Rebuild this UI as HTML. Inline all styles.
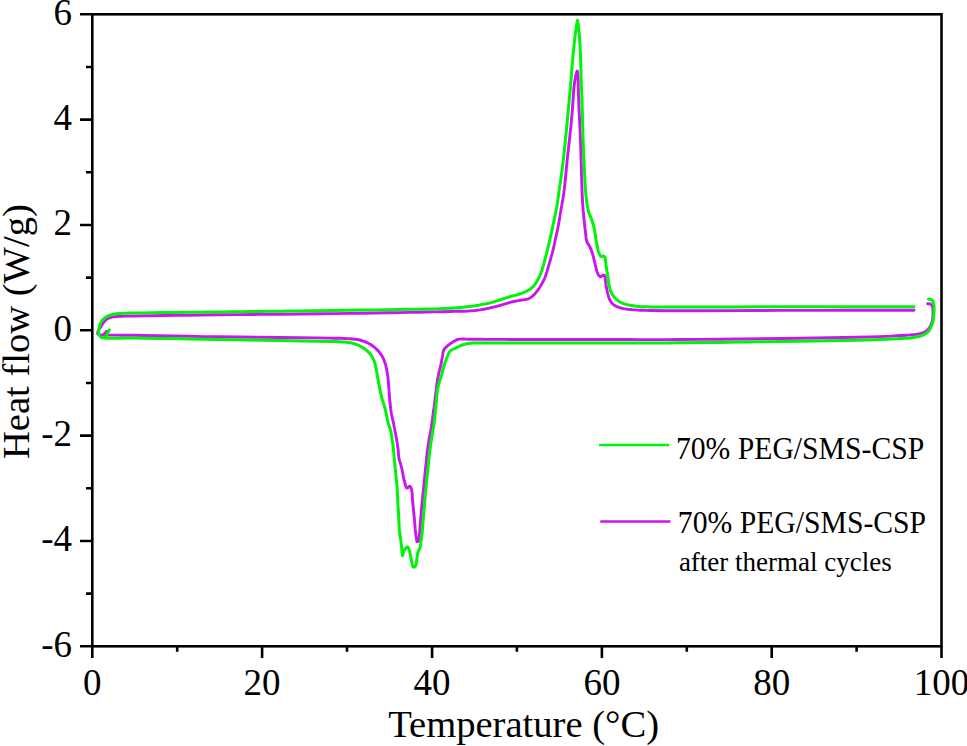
<!DOCTYPE html>
<html><head><meta charset="utf-8"><style>
html,body{margin:0;padding:0;background:#fff;width:967px;height:746px;overflow:hidden}
svg{display:block}
text{font-family:"Liberation Serif",serif;fill:#000}
</style></head><body>
<svg width="967" height="746" viewBox="0 0 967 746">
<g fill="none" stroke-linecap="round" stroke-linejoin="round">
<path d="M927.6,303.8L928.1,303.8 928.6,303.8 929.1,303.8 929.5,303.9 930.0,303.9 930.4,304.1 930.8,304.3 931.2,304.6 931.5,305.0 931.9,305.4 932.2,305.8 932.4,306.3 932.6,306.9 932.8,307.6 932.9,308.4 932.9,309.2 933.0,310.0 933.0,310.8 933.0,311.8 933.0,313.0 933.0,314.1 933.0,315.3 932.9,316.4 932.8,317.5 932.7,318.4 932.6,319.3 932.4,320.2 932.3,321.1 932.0,322.0 931.8,322.8 931.5,323.6 931.2,324.4 930.9,325.2 930.5,326.0 930.1,326.8 929.6,327.5 929.1,328.2 928.6,328.9 928.0,329.5 927.4,330.1 926.7,330.7 926.0,331.2 925.1,331.7 924.2,332.2 923.2,332.6 922.2,333.0 921.1,333.3 920.0,333.6 918.6,333.9 917.1,334.2 915.5,334.4 913.8,334.6 912.0,334.7 910.0,334.9 906.1,335.2 901.7,335.5 896.9,335.8 891.7,336.1 886.0,336.4 880.0,336.6 869.1,337.0 856.8,337.3 843.4,337.5 829.3,337.8 814.7,338.0 800.0,338.2 781.1,338.5 760.9,338.7 740.0,339.0 719.1,339.2 698.9,339.4 680.0,339.5 665.9,339.6 652.6,339.6 639.8,339.6 627.0,339.5 613.9,339.5 600.0,339.5 581.6,339.5 561.3,339.5 540.5,339.5 520.7,339.5 503.4,339.4 490.0,339.4 485.7,339.4 482.0,339.3 478.8,339.3 475.8,339.2 473.0,339.2 470.2,339.2 468.0,339.2 465.8,339.1 463.7,339.0 461.7,339.0 459.9,339.1 458.2,339.4 457.2,339.7 456.2,340.1 455.4,340.5 454.5,341.0 453.7,341.5 452.8,342.1 451.7,342.8 450.5,343.6 449.2,344.5 448.1,345.4 447.0,346.3 446.1,347.1 445.6,347.6 445.1,348.1 444.7,348.5 444.3,349.0 444.0,349.5 443.7,350.1 443.4,351.0 443.1,352.1 442.9,353.2 442.8,354.4 442.6,355.6 442.4,356.8 442.1,358.2 441.9,359.6 441.6,361.1 441.3,362.6 441.0,364.1 440.7,365.5 440.4,366.9 440.0,368.2 439.7,369.6 439.3,370.9 439.0,372.2 438.7,373.6 438.4,375.0 438.2,376.3 437.9,377.7 437.7,379.1 437.4,380.5 437.2,382.0 436.9,383.9 436.7,385.9 436.4,387.9 436.2,390.0 435.9,392.0 435.7,394.0 435.5,395.7 435.3,397.4 435.1,399.1 434.9,400.7 434.7,402.3 434.5,404.0 434.3,405.7 434.1,407.3 433.8,408.9 433.6,410.6 433.3,412.3 433.1,414.1 432.8,416.4 432.5,418.9 432.1,421.4 431.8,423.9 431.5,426.3 431.1,428.6 430.8,430.3 430.5,431.8 430.2,433.4 429.9,434.9 429.6,436.4 429.3,438.0 429.0,439.9 428.7,441.9 428.4,443.9 428.1,445.9 427.8,448.0 427.5,450.0 427.2,452.1 427.0,454.2 426.8,456.3 426.5,458.5 426.3,460.6 426.1,462.8 425.9,465.1 425.6,467.4 425.4,469.8 425.2,472.2 424.9,474.5 424.7,476.9 424.5,479.3 424.2,481.7 424.0,484.1 423.8,486.5 423.5,488.8 423.3,491.0 423.1,492.6 423.0,494.1 422.8,495.5 422.6,496.9 422.5,498.4 422.3,500.0 422.1,502.3 421.9,504.8 421.6,507.3 421.4,509.9 421.2,512.5 421.0,515.0 420.8,517.3 420.6,519.5 420.5,521.8 420.3,523.9 420.2,526.0 420.0,528.0 419.9,529.5 419.8,530.9 419.7,532.2 419.6,533.5 419.4,534.8 419.3,536.0 419.2,537.0 419.1,538.1 419.0,539.1 418.9,540.0 418.7,540.8 418.4,541.3 418.2,541.4 418.1,541.6 417.9,541.6 417.7,541.7 417.5,541.7 417.3,541.6 417.0,541.3 416.8,540.7 416.7,540.0 416.6,539.2 416.4,538.3 416.3,537.5 416.1,536.4 415.9,535.2 415.8,534.0 415.6,532.7 415.4,531.3 415.3,530.0 415.1,528.4 415.0,526.8 414.9,525.1 414.8,523.4 414.6,521.7 414.5,520.0 414.3,518.3 414.2,516.7 414.0,515.0 413.8,513.3 413.7,511.7 413.5,510.0 413.3,508.3 413.2,506.7 413.0,505.0 412.8,503.3 412.7,501.7 412.5,500.0 412.4,498.3 412.3,496.5 412.2,494.7 412.1,493.0 411.9,491.4 411.6,490.0 411.4,489.2 411.1,488.3 410.8,487.6 410.5,486.9 410.1,486.4 409.7,486.2 409.3,486.3 408.8,486.7 408.3,487.2 407.8,487.7 407.3,488.0 406.9,488.1 406.5,487.8 406.1,487.1 405.8,486.3 405.5,485.3 405.3,484.3 405.0,483.4 404.7,482.5 404.5,481.6 404.2,480.7 404.0,479.8 403.8,478.8 403.6,477.8 403.4,476.6 403.1,475.3 402.9,474.1 402.7,472.8 402.4,471.5 402.2,470.3 402.0,469.3 401.8,468.4 401.5,467.5 401.3,466.6 401.1,465.6 400.8,464.7 400.5,463.6 400.2,462.6 399.8,461.5 399.5,460.4 399.2,459.3 398.9,458.1 398.7,456.6 398.5,455.1 398.4,453.5 398.3,451.9 398.2,450.3 398.0,448.7 397.8,447.1 397.6,445.6 397.4,444.0 397.1,442.5 396.9,441.0 396.6,439.4 396.3,437.8 396.0,436.2 395.7,434.6 395.4,433.0 395.1,431.5 394.8,430.0 394.6,428.8 394.3,427.6 394.1,426.5 393.9,425.3 393.7,424.1 393.4,422.9 393.1,421.3 392.7,419.6 392.3,417.9 391.9,416.1 391.5,414.3 391.2,412.5 390.9,410.4 390.6,408.2 390.4,406.0 390.1,403.8 389.9,401.5 389.7,399.3 389.5,397.1 389.3,394.8 389.2,392.6 389.0,390.4 388.9,388.2 388.7,386.0 388.5,384.0 388.4,382.0 388.2,380.0 388.0,378.0 387.8,376.1 387.5,374.2 387.2,372.4 386.9,370.6 386.5,368.9 386.2,367.2 385.8,365.5 385.3,363.9 384.9,362.6 384.4,361.3 384.0,360.1 383.5,358.8 382.9,357.7 382.3,356.5 381.6,355.3 380.8,354.2 380.0,353.1 379.1,352.0 378.2,350.9 377.2,349.9 376.1,348.8 375.0,347.8 373.8,346.7 372.5,345.8 371.2,344.8 369.8,344.0 368.2,343.2 366.6,342.4 364.9,341.7 363.2,341.1 361.4,340.5 359.5,340.0 357.2,339.5 354.8,339.2 352.3,339.0 349.7,338.8 347.2,338.6 344.7,338.5 342.4,338.4 340.3,338.3 338.2,338.2 335.9,338.2 333.2,338.2 330.0,338.1 317.4,337.9 300.4,337.7 280.5,337.5 259.5,337.3 238.7,337.0 220.0,336.8 204.3,336.6 188.3,336.3 172.5,336.0 157.7,335.7 144.6,335.5 134.0,335.3 130.0,335.2 126.5,335.2 123.4,335.2 120.5,335.2 117.8,335.1 115.0,335.1 112.8,335.1 110.6,335.1 108.4,335.0 106.4,335.0 104.6,335.0 103.0,334.9 102.2,334.9 101.4,334.9 100.7,334.9 100.1,334.8 99.5,334.7 99.0,334.6 98.7,334.5 98.4,334.4 98.1,334.2 97.9,334.0 97.7,333.8 97.6,333.6 97.5,333.2 97.6,332.8 97.7,332.3 97.9,331.8 98.1,331.3 98.3,330.8 98.5,330.3 98.8,329.8 99.2,329.3 99.5,328.8 99.9,328.3 100.2,327.8 100.6,327.2 100.9,326.6 101.3,325.9 101.7,325.2 102.1,324.6 102.5,324.0 102.9,323.4 103.3,322.9 103.7,322.3 104.1,321.8 104.5,321.3 105.0,320.8 105.5,320.4 105.9,319.9 106.4,319.5 106.9,319.2 107.4,318.8 108.0,318.5 108.6,318.2 109.2,317.9 109.9,317.7 110.5,317.5 111.2,317.3 112.0,317.1 113.1,316.9 114.4,316.7 115.7,316.6 117.1,316.5 118.5,316.4 120.0,316.3 122.0,316.2 124.0,316.1 126.1,316.1 128.4,316.1 131.0,316.0 134.0,316.0 142.0,315.9 151.7,315.7 162.7,315.5 174.7,315.3 187.3,315.2 200.0,315.0 218.2,314.8 238.3,314.6 259.3,314.4 280.5,314.2 301.0,314.0 320.0,313.8 334.5,313.6 348.6,313.4 362.2,313.2 375.3,313.0 387.9,312.8 400.0,312.6 409.3,312.4 418.4,312.2 427.1,312.0 435.4,311.9 443.1,311.7 450.0,311.5 453.9,311.4 457.6,311.3 461.0,311.3 464.2,311.2 467.2,311.1 470.0,310.9 471.9,310.8 473.6,310.6 475.2,310.5 476.8,310.3 478.4,310.1 480.0,309.9 481.7,309.6 483.4,309.3 485.1,309.0 486.7,308.6 488.4,308.3 490.1,307.9 491.8,307.5 493.5,307.1 495.2,306.7 496.8,306.3 498.5,305.9 500.2,305.4 501.9,304.9 503.5,304.4 505.2,303.8 506.9,303.3 508.5,302.8 510.2,302.3 511.9,301.9 513.6,301.5 515.3,301.2 517.0,300.9 518.7,300.6 520.3,300.3 521.7,300.1 523.1,299.9 524.5,299.7 525.8,299.5 527.1,299.2 528.3,298.8 529.4,298.3 530.5,297.6 531.5,296.9 532.5,296.1 533.4,295.2 534.4,294.3 535.5,293.2 536.5,291.9 537.5,290.6 538.5,289.2 539.5,287.8 540.4,286.3 541.3,284.7 542.2,283.1 543.1,281.5 543.9,279.8 544.7,278.0 545.4,276.2 546.2,274.1 546.9,271.9 547.5,269.7 548.2,267.5 548.8,265.2 549.4,263.1 550.0,261.2 550.5,259.4 551.0,257.6 551.5,255.7 552.0,253.9 552.5,252.1 552.9,250.3 553.4,248.5 553.8,246.7 554.2,244.8 554.6,243.0 555.0,241.0 555.5,238.6 556.1,236.1 556.7,233.5 557.2,230.9 557.8,228.2 558.3,225.6 558.8,222.8 559.3,219.9 559.8,216.9 560.2,214.0 560.7,211.3 561.1,208.8 561.4,207.2 561.7,205.7 561.9,204.3 562.2,202.9 562.4,201.5 562.7,200.0 563.0,198.4 563.2,196.9 563.5,195.4 563.7,193.7 563.9,192.0 564.2,190.0 564.6,186.1 565.1,181.6 565.6,176.7 566.1,171.6 566.5,166.6 567.0,162.0 567.4,158.2 567.8,154.4 568.2,150.8 568.6,147.2 569.0,143.6 569.4,140.0 569.8,136.6 570.1,133.2 570.5,129.8 570.9,126.5 571.2,123.2 571.5,120.0 571.7,117.2 572.0,114.6 572.2,111.9 572.4,109.3 572.6,106.7 572.8,104.0 573.0,101.1 573.2,98.1 573.4,95.0 573.6,92.1 573.8,89.2 574.1,86.5 574.3,84.5 574.6,82.5 574.9,80.5 575.2,78.7 575.5,77.0 575.8,75.5 576.0,74.5 576.3,73.5 576.5,72.5 576.8,71.7 577.0,71.2 577.2,71.0 577.4,71.2 577.5,71.9 577.7,72.8 577.8,73.8 577.9,74.9 578.0,76.0 578.1,77.5 578.1,79.1 578.2,80.8 578.2,82.7 578.2,84.6 578.2,86.5 578.3,89.1 578.4,91.8 578.4,94.6 578.6,97.5 578.7,100.7 578.8,104.0 579.0,109.2 579.3,114.8 579.6,120.8 579.9,127.1 580.2,133.5 580.5,140.0 580.8,148.2 581.0,157.2 581.3,166.4 581.5,175.3 581.8,183.4 582.0,190.0 582.1,192.8 582.2,195.3 582.3,197.5 582.4,199.7 582.6,201.8 582.7,204.0 582.9,206.3 583.0,208.7 583.2,211.0 583.5,213.4 583.7,215.8 583.9,218.1 584.1,220.5 584.4,222.9 584.7,225.3 584.9,227.7 585.2,230.0 585.5,232.2 585.7,233.9 585.9,235.6 586.0,237.2 586.2,238.7 586.5,240.2 586.9,241.6 587.3,242.6 587.8,243.6 588.4,244.5 589.0,245.4 589.5,246.3 590.0,247.2 590.4,248.2 590.9,249.1 591.3,250.1 591.7,251.1 592.0,252.2 592.4,253.3 592.8,254.8 593.3,256.4 593.7,258.0 594.0,259.7 594.4,261.3 594.8,262.9 595.1,264.2 595.4,265.5 595.7,266.7 596.0,267.9 596.3,269.1 596.6,270.2 596.9,271.1 597.2,272.0 597.5,272.8 597.8,273.6 598.1,274.4 598.5,275.0 598.8,275.4 599.1,275.8 599.5,276.2 599.8,276.5 600.2,276.7 600.6,276.8 601.1,276.7 601.6,276.3 602.2,275.9 602.7,275.4 603.2,275.1 603.6,275.0 603.8,275.1 604.1,275.2 604.3,275.4 604.5,275.6 604.6,275.9 604.8,276.2 605.0,276.8 605.1,277.6 605.2,278.5 605.3,279.4 605.3,280.3 605.4,281.1 605.5,281.8 605.6,282.4 605.7,283.0 605.8,283.7 605.9,284.3 606.0,285.0 606.2,285.9 606.3,286.9 606.5,287.8 606.7,288.9 606.9,289.9 607.2,291.0 607.5,292.5 607.9,294.1 608.3,295.7 608.8,297.4 609.3,298.9 610.0,300.3 610.6,301.3 611.3,302.3 612.1,303.2 612.9,304.0 613.8,304.8 614.7,305.5 615.8,306.1 617.0,306.7 618.2,307.2 619.5,307.6 620.8,308.0 622.2,308.3 623.8,308.7 625.4,308.9 627.1,309.2 628.8,309.4 630.6,309.5 632.5,309.7 635.0,309.9 637.4,310.1 639.9,310.2 642.8,310.3 646.1,310.4 650.0,310.5 664.7,310.7 684.3,310.7 707.3,310.7 732.1,310.6 756.8,310.5 780.0,310.4 802.2,310.4 824.5,310.4 846.9,310.3 869.3,310.3 891.6,310.3 914.0,310.3" stroke="#cc14f2" stroke-width="2.9"/>
<path d="M103.8,334.8L104.1,334.5 104.3,334.1 104.6,333.8 104.9,333.4 105.1,333.1 105.4,332.8 105.6,332.5 105.9,332.3 106.1,332.0 106.3,331.7 106.6,331.5 106.8,331.2" stroke="#cc14f2" stroke-width="2.9"/>
<path d="M928.5,299.2L929.0,299.3 929.5,299.3 930.0,299.3 930.5,299.4 931.0,299.5 931.4,299.7 931.8,300.0 932.2,300.5 932.6,301.0 932.9,301.5 933.2,302.1 933.4,302.7 933.7,303.6 933.8,304.5 933.9,305.5 934.0,306.6 934.1,307.7 934.1,308.7 934.1,309.8 934.1,310.9 934.0,312.1 934.0,313.2 933.9,314.3 933.8,315.4 933.7,316.3 933.6,317.2 933.5,318.1 933.4,319.0 933.3,319.9 933.1,320.8 932.9,321.7 932.6,322.6 932.4,323.5 932.1,324.5 931.8,325.3 931.4,326.2 931.0,327.0 930.7,327.8 930.3,328.6 929.8,329.4 929.3,330.1 928.8,330.8 928.2,331.5 927.6,332.1 926.9,332.7 926.2,333.2 925.5,333.7 924.7,334.2 923.8,334.7 922.9,335.1 921.9,335.5 920.9,335.9 919.8,336.2 918.7,336.5 917.4,336.8 916.1,337.1 914.8,337.3 913.4,337.5 911.8,337.7 910.0,337.9 906.2,338.2 901.9,338.5 897.0,338.8 891.7,339.0 886.0,339.3 880.0,339.5 869.1,339.9 856.8,340.2 843.4,340.4 829.3,340.7 814.7,341.0 800.0,341.2 781.1,341.5 760.9,341.8 740.0,342.1 719.1,342.4 698.9,342.6 680.0,342.8 665.9,342.9 652.6,342.9 639.8,343.0 627.0,343.0 613.9,343.0 600.0,343.0 581.4,343.0 560.7,343.0 539.4,343.1 519.4,343.1 502.3,343.1 490.0,343.1 487.0,343.1 484.6,343.1 482.5,343.1 480.6,343.1 478.7,343.1 476.9,343.1 475.4,343.1 474.1,343.1 472.7,343.1 471.4,343.2 470.2,343.3 468.9,343.4 467.7,343.6 466.6,343.8 465.5,344.1 464.4,344.4 463.3,344.7 462.2,345.1 461.1,345.5 459.9,346.0 458.8,346.5 457.7,347.0 456.6,347.6 455.5,348.1 454.5,348.6 453.5,349.0 452.6,349.5 451.7,349.9 450.8,350.5 450.1,351.1 449.6,351.7 449.1,352.4 448.8,353.1 448.5,353.9 448.1,354.7 447.8,355.5 447.4,356.4 447.0,357.4 446.6,358.4 446.2,359.4 445.8,360.5 445.4,361.5 445.0,362.6 444.7,363.7 444.4,364.8 444.0,365.9 443.7,367.1 443.4,368.2 443.1,369.4 442.7,370.6 442.4,371.9 442.1,373.1 441.7,374.4 441.4,375.6 441.0,376.9 440.6,378.1 440.2,379.4 439.8,380.6 439.4,381.9 439.1,383.1 438.8,384.2 438.5,385.3 438.2,386.4 438.0,387.5 437.7,388.7 437.5,390.0 437.2,392.3 436.9,394.9 436.6,397.6 436.4,400.5 436.2,403.3 435.9,406.1 435.6,408.8 435.4,411.6 435.1,414.3 434.9,417.0 434.6,419.7 434.3,422.2 434.0,424.3 433.7,426.3 433.3,428.2 433.0,430.1 432.6,432.1 432.3,434.2 431.9,436.7 431.5,439.3 431.1,442.0 430.6,444.7 430.3,447.4 429.9,450.0 429.6,452.5 429.3,455.0 429.0,457.5 428.8,460.0 428.6,462.5 428.3,465.0 428.0,467.5 427.8,470.0 427.5,472.5 427.3,475.0 427.0,477.5 426.8,480.0 426.5,482.5 426.3,485.0 426.0,487.6 425.8,490.1 425.5,492.6 425.3,495.0 425.1,497.2 424.9,499.4 424.7,501.5 424.6,503.7 424.4,505.8 424.2,508.0 424.0,510.3 423.8,512.7 423.6,515.1 423.4,517.5 423.2,519.8 423.0,522.0 422.9,523.8 422.7,525.5 422.6,527.1 422.5,528.8 422.4,530.4 422.2,532.0 422.0,533.6 421.8,535.2 421.6,536.8 421.4,538.3 421.2,539.8 421.0,541.3 420.8,542.5 420.7,543.7 420.5,544.9 420.4,546.0 420.2,547.0 419.9,548.0 419.7,548.6 419.4,549.2 419.1,549.7 418.7,550.2 418.5,550.8 418.2,551.4 417.9,552.5 417.6,553.8 417.4,555.2 417.2,556.6 417.0,558.0 416.8,559.3 416.6,560.6 416.4,561.9 416.3,563.2 416.1,564.4 415.8,565.4 415.4,566.2 415.1,566.5 414.8,566.8 414.4,567.0 414.0,567.1 413.7,567.2 413.4,567.1 413.0,566.7 412.7,566.0 412.5,565.1 412.2,564.1 412.0,563.1 411.8,562.1 411.5,561.0 411.3,559.9 411.1,558.7 410.8,557.6 410.6,556.4 410.4,555.3 410.2,554.3 410.0,553.3 409.9,552.3 409.7,551.4 409.5,550.5 409.2,549.7 409.0,549.1 408.7,548.5 408.4,547.9 408.1,547.4 407.8,547.1 407.5,546.9 407.1,547.0 406.7,547.2 406.2,547.6 405.8,548.1 405.4,548.6 405.0,549.1 404.6,549.6 404.3,550.2 404.0,550.7 403.8,551.3 403.5,551.9 403.3,552.5 403.1,553.1 403.0,553.8 402.8,554.4 402.7,555.0 402.6,555.4 402.5,555.6 402.3,555.1 402.2,554.0 402.0,552.3 401.9,550.4 401.8,548.5 401.6,546.9 401.4,545.5 401.2,544.1 401.1,542.6 400.9,541.2 400.7,539.8 400.5,538.4 400.3,537.0 400.1,535.7 399.9,534.4 399.7,533.0 399.6,531.5 399.4,530.0 399.2,527.8 399.1,525.3 399.0,522.8 398.8,520.2 398.7,517.6 398.6,515.0 398.5,512.5 398.3,510.0 398.1,507.5 398.0,505.0 397.8,502.5 397.7,500.0 397.6,497.7 397.5,495.4 397.4,493.1 397.3,490.8 397.2,488.5 397.0,486.2 396.8,483.9 396.6,481.5 396.3,479.2 396.1,476.9 395.8,474.5 395.6,472.2 395.4,469.9 395.1,467.5 394.9,465.2 394.7,462.8 394.4,460.4 394.2,458.1 394.0,455.8 393.8,453.4 393.6,451.1 393.3,448.8 393.1,446.4 392.8,444.1 392.5,441.7 392.1,439.2 391.8,436.7 391.4,434.3 391.0,432.1 390.5,430.0 390.1,428.7 389.8,427.5 389.4,426.4 389.0,425.3 388.6,424.2 388.2,422.9 387.7,420.9 387.2,418.7 386.8,416.4 386.3,414.1 385.8,411.8 385.3,409.6 384.8,407.8 384.3,406.0 383.8,404.3 383.3,402.6 382.8,401.0 382.3,399.3 381.9,397.8 381.5,396.3 381.1,394.9 380.8,393.4 380.4,392.0 380.1,390.4 379.7,388.5 379.3,386.6 379.0,384.6 378.6,382.6 378.3,380.6 377.9,378.6 377.5,376.6 377.2,374.6 376.8,372.5 376.5,370.5 376.1,368.6 375.7,366.8 375.4,365.5 375.1,364.2 374.7,363.0 374.4,361.8 374.0,360.6 373.5,359.5 373.0,358.4 372.4,357.4 371.9,356.4 371.2,355.5 370.5,354.5 369.8,353.6 369.0,352.7 368.1,351.7 367.1,350.9 366.1,350.0 365.0,349.2 363.9,348.4 362.6,347.6 361.2,346.7 359.7,345.9 358.2,345.2 356.7,344.6 355.1,344.0 353.5,343.5 351.8,343.1 350.1,342.8 348.4,342.5 346.6,342.3 344.7,342.1 342.6,341.9 340.5,341.8 338.4,341.7 336.0,341.6 333.3,341.6 330.0,341.5 317.4,341.2 300.4,340.9 280.5,340.5 259.5,340.2 238.7,339.8 220.0,339.5 204.3,339.2 188.3,338.9 172.5,338.6 157.7,338.4 144.6,338.2 134.0,338.1 130.0,338.1 126.5,338.1 123.3,338.2 120.4,338.2 117.7,338.2 115.0,338.2 112.9,338.2 110.9,338.2 108.9,338.2 107.1,338.2 105.4,338.1 104.0,337.9 103.3,337.8 102.6,337.6 102.0,337.5 101.4,337.3 100.9,337.1 100.5,336.8 100.2,336.5 99.9,336.2 99.6,335.8 99.4,335.4 99.2,334.9 99.0,334.5 98.8,334.0 98.7,333.4 98.7,332.8 98.6,332.2 98.6,331.6 98.6,331.0 98.6,330.4 98.7,329.8 98.8,329.2 98.9,328.7 99.1,328.1 99.2,327.5 99.3,326.9 99.5,326.3 99.6,325.7 99.8,325.1 100.0,324.5 100.2,324.0 100.4,323.6 100.6,323.1 100.8,322.7 101.0,322.3 101.2,321.9 101.5,321.5 101.8,321.1 102.1,320.6 102.4,320.2 102.8,319.8 103.1,319.4 103.5,319.0 103.9,318.6 104.4,318.2 104.9,317.8 105.4,317.5 106.0,317.1 106.5,316.8 107.0,316.5 107.6,316.2 108.2,315.9 108.8,315.7 109.4,315.4 110.0,315.2 110.8,315.0 111.6,314.7 112.4,314.5 113.2,314.3 114.1,314.2 115.0,314.0 116.1,313.8 117.2,313.7 118.3,313.6 119.5,313.5 120.7,313.5 122.0,313.4 123.7,313.3 125.4,313.2 127.2,313.2 129.2,313.1 131.4,313.1 134.0,313.0 142.0,312.9 152.2,312.7 163.9,312.6 176.3,312.5 188.6,312.3 200.0,312.2 210.2,312.1 220.2,311.9 230.2,311.8 240.1,311.7 250.0,311.5 260.0,311.4 269.9,311.3 279.7,311.2 289.5,311.1 299.4,311.0 309.5,310.8 320.0,310.7 332.9,310.5 346.5,310.3 360.5,310.1 374.3,309.9 387.6,309.7 400.0,309.5 409.3,309.3 418.4,309.2 427.1,309.1 435.4,308.9 443.1,308.6 450.0,308.3 453.9,308.0 457.6,307.7 461.0,307.4 464.2,307.1 467.2,306.7 470.0,306.4 471.9,306.2 473.6,305.9 475.2,305.7 476.8,305.4 478.4,305.2 480.0,304.9 481.7,304.6 483.4,304.3 485.1,304.0 486.7,303.7 488.4,303.3 490.1,302.9 491.8,302.4 493.5,302.0 495.2,301.4 496.8,300.9 498.5,300.3 500.2,299.8 501.9,299.3 503.5,298.7 505.2,298.1 506.9,297.6 508.5,297.0 510.2,296.5 511.9,296.0 513.6,295.6 515.4,295.2 517.1,294.7 518.7,294.3 520.3,293.8 521.6,293.3 522.8,292.9 524.0,292.4 525.1,291.9 526.2,291.4 527.3,290.8 528.2,290.3 529.1,289.7 529.9,289.2 530.8,288.6 531.5,288.0 532.3,287.3 533.1,286.6 533.8,285.8 534.5,284.9 535.1,284.1 535.8,283.2 536.4,282.2 537.1,281.0 537.8,279.7 538.5,278.4 539.2,277.0 539.8,275.6 540.4,274.2 541.0,272.7 541.5,271.3 542.0,269.8 542.5,268.2 542.9,266.7 543.4,265.1 543.9,263.3 544.4,261.5 544.9,259.7 545.4,257.9 545.9,256.0 546.4,254.1 546.9,252.1 547.4,250.0 547.9,248.0 548.4,245.9 548.9,243.7 549.4,241.5 550.0,238.8 550.6,236.1 551.3,233.2 551.9,230.4 552.5,227.5 553.1,224.7 553.7,222.0 554.3,219.2 554.9,216.4 555.4,213.7 555.9,211.2 556.4,208.8 556.7,207.2 556.9,205.7 557.2,204.3 557.4,202.9 557.6,201.5 557.8,200.0 558.0,198.4 558.3,196.9 558.5,195.3 558.7,193.6 558.9,191.9 559.2,190.0 559.6,186.9 560.2,183.4 560.7,179.7 561.2,175.9 561.8,171.9 562.3,168.0 562.8,163.6 563.4,159.1 563.9,154.6 564.4,149.9 564.9,145.0 565.4,140.0 566.1,133.4 566.8,126.2 567.5,118.7 568.2,111.4 568.8,104.6 569.4,98.5 569.7,95.0 570.0,91.8 570.3,88.8 570.5,85.9 570.8,83.0 571.0,80.0 571.2,77.1 571.5,74.2 571.7,71.3 571.9,68.4 572.1,65.4 572.4,62.3 572.8,58.4 573.1,54.2 573.6,49.9 574.0,45.7 574.4,41.8 574.8,38.2 575.1,36.0 575.3,33.9 575.6,31.9 575.9,30.0 576.1,28.2 576.4,26.5 576.6,25.2 576.8,23.8 577.0,22.5 577.2,21.4 577.3,20.6 577.5,20.3 577.7,20.6 577.8,21.4 578.0,22.5 578.1,23.8 578.3,25.2 578.4,26.5 578.6,28.2 578.8,30.0 579.0,31.9 579.2,33.9 579.4,36.0 579.6,38.2 579.8,41.8 580.0,45.7 580.2,49.9 580.4,54.2 580.6,58.4 580.7,62.3 580.8,65.4 580.9,68.4 581.0,71.3 581.0,74.2 581.1,77.1 581.2,80.0 581.3,83.0 581.4,85.9 581.5,88.8 581.7,91.8 581.8,95.0 581.9,98.5 582.1,104.5 582.3,111.4 582.5,118.6 582.7,126.1 582.9,133.3 583.1,140.0 583.3,145.4 583.5,150.6 583.7,155.7 584.0,160.6 584.2,165.4 584.4,170.0 584.6,173.7 584.8,177.2 584.9,180.7 585.1,184.0 585.3,187.1 585.5,190.0 585.6,191.8 585.8,193.4 585.9,194.9 586.0,196.3 586.2,197.8 586.4,199.4 586.6,201.2 586.9,203.1 587.2,205.0 587.5,206.9 587.9,208.8 588.3,210.6 588.8,212.4 589.5,214.2 590.2,215.9 590.9,217.6 591.5,219.3 592.1,221.0 592.6,222.4 593.0,223.8 593.4,225.2 593.7,226.5 594.1,227.9 594.4,229.4 594.7,231.1 595.0,232.9 595.3,234.8 595.5,236.6 595.7,238.4 596.0,240.0 596.2,241.1 596.4,242.1 596.6,243.1 596.8,244.1 597.0,245.0 597.2,246.0 597.4,246.9 597.6,247.9 597.8,248.8 598.0,249.7 598.2,250.6 598.5,251.5 598.8,252.3 599.0,253.1 599.3,253.9 599.7,254.6 600.0,255.2 600.3,255.7 600.5,255.9 600.7,256.1 600.9,256.3 601.1,256.4 601.3,256.5 601.5,256.6 601.8,256.6 602.1,256.5 602.4,256.3 602.7,256.1 603.0,256.0 603.3,256.0 603.6,256.1 603.9,256.3 604.2,256.5 604.5,256.8 604.8,257.1 605.0,257.5 605.2,258.0 605.4,258.7 605.5,259.4 605.5,260.1 605.6,260.9 605.7,261.7 605.8,262.8 606.0,264.0 606.1,265.2 606.3,266.5 606.4,267.8 606.6,269.0 606.8,270.2 607.0,271.4 607.2,272.6 607.4,273.7 607.6,275.0 607.8,276.2 608.0,277.6 608.1,279.1 608.3,280.6 608.5,282.0 608.7,283.5 609.0,285.0 609.4,286.5 609.8,288.1 610.2,289.6 610.7,291.1 611.3,292.5 611.9,293.8 612.4,294.7 613.0,295.6 613.6,296.3 614.2,297.1 614.9,297.8 615.6,298.5 616.4,299.3 617.3,300.0 618.3,300.8 619.2,301.5 620.2,302.1 621.3,302.7 622.4,303.2 623.6,303.7 624.9,304.0 626.2,304.4 627.5,304.7 628.8,305.0 630.3,305.3 631.8,305.6 633.4,305.8 634.9,306.0 636.6,306.2 638.2,306.4 639.9,306.6 641.6,306.7 643.2,306.7 645.1,306.8 647.3,306.8 650.0,306.9 663.6,307.0 682.9,307.1 706.2,307.0 731.3,306.9 756.6,306.8 780.0,306.8 802.2,306.8 824.5,306.8 846.9,306.7 869.3,306.7 891.6,306.7 914.0,306.7" stroke="#00f40a" stroke-width="3.0"/>
<path d="M105.8,336.6L106.1,336.0 106.4,335.5 106.7,334.9 107.0,334.3 107.3,333.8 107.6,333.2 107.9,332.6 108.2,332.1 108.5,331.5 108.8,331.0 109.1,330.4 109.4,329.9" stroke="#00f40a" stroke-width="3.0"/>
</g>
<g stroke="#000" stroke-width="2.6" fill="none">
<rect x="92.3" y="14.3" width="849.2" height="632"/>
<path d="M80,14.3H92.3M80,119.6H92.3M80,225H92.3M80,330.3H92.3M80,435.6H92.3M80,541H92.3M80,646.3H92.3"/>
<path d="M86,67H92.3M86,172.3H92.3M86,277.6H92.3M86,383H92.3M86,488.3H92.3M86,593.6H92.3"/>
<path d="M92.3,646.3V658M262.1,646.3V658M432.1,646.3V658M601.9,646.3V658M771.7,646.3V658M941.5,646.3V658"/>
<path d="M177.2,646.3V651.8M347,646.3V651.8M516.9,646.3V651.8M686.8,646.3V651.8M856.6,646.3V651.8"/>
</g>
<path d="M599.1,445H669.1" stroke="#00f40a" stroke-width="2.6"/>
<path d="M600.3,521.5H670.4" stroke="#cc14f2" stroke-width="2.6"/>
<g font-size="37" text-anchor="end">
<text x="72" y="24.8">6</text>
<text x="72" y="130">4</text>
<text x="72" y="235.3">2</text>
<text x="72" y="340.6">0</text>
<text x="72" y="445.9">-2</text>
<text x="72" y="551.2">-4</text>
<text x="72" y="656.8">-6</text>
</g>
<g font-size="37" text-anchor="middle">
<text x="92.3" y="694.8">0</text>
<text x="262.1" y="694.8">20</text>
<text x="432.1" y="694.8">40</text>
<text x="601.9" y="694.8">60</text>
<text x="771.7" y="694.8">80</text>
<text x="941.5" y="694.8">100</text>
</g>
<text x="523.6" y="737" font-size="38.6" text-anchor="middle">Temperature (°C)</text>
<text transform="translate(28.6,331.6) rotate(-90)" font-size="38.6" text-anchor="middle">Heat flow (W/g)</text>
<text transform="translate(675.9,459) scale(1,1.055)" font-size="29.7">70% PEG/SMS-CSP</text>
<text transform="translate(677.8,532.6) scale(1,1.055)" font-size="29.7">70% PEG/SMS-CSP</text>
<text x="678.9" y="571" font-size="27">after thermal cycles</text>
</svg>
</body></html>
